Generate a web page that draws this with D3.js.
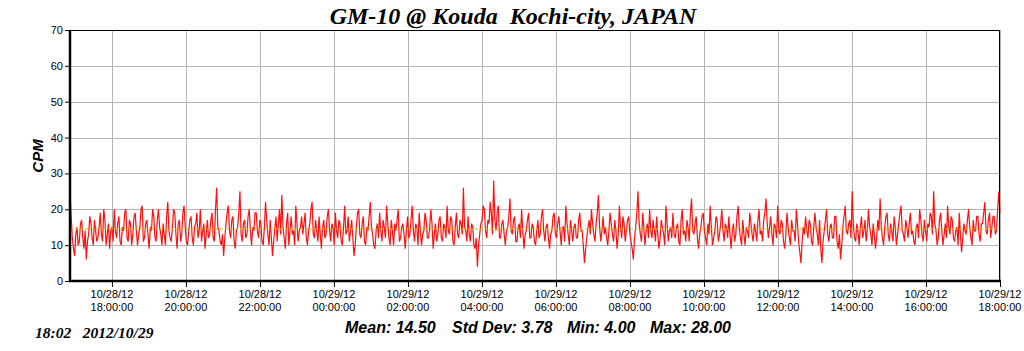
<!DOCTYPE html>
<html><head><meta charset="utf-8">
<script src="https://cdn.jsdelivr.net/npm/d3@7"></script>
<style>body{margin:0;background:#fff}svg{display:block}</style>
</head><body>
<script>
const title = "GM-10 @ Kouda  Kochi-city, JAPAN";
const yLabel = "CPM";
const startTime = "2012-10-28T16:52:00";
const endTime = "2012-10-29T18:00:00";
const cpm = [
25,18,12,9,7,13,15,10,11,16,17,12,9,14,6,11,13,18,16,12,10,17,14,11,12,15,19,13,11,20,17,10,13,16,9,14,15,11,20,14,
12,16,18,11,10,15,14,19,20,12,11,17,16,10,13,18,19,14,10,13,15,20,21,11,12,16,17,13,9,15,14,20,18,12,11,17,20,15,13,10,
16,13,10,18,22,14,12,11,15,20,19,13,9,16,17,11,13,19,21,15,11,10,14,17,18,12,10,15,16,19,12,14,20,11,14,16,9,13,17,12,
13,17,19,12,11,20,26,15,14,11,10,13,7,12,16,19,21,14,12,17,18,11,9,14,15,19,25,13,11,16,17,12,13,18,20,14,10,15,14,19,
19,14,12,17,16,11,10,15,22,17,13,10,17,12,7,11,15,18,11,16,20,13,24,15,12,9,16,19,10,14,18,13,14,10,21,16,11,14,15,18,
13,16,19,12,10,14,16,20,22,13,12,17,14,11,18,13,9,15,17,12,13,18,20,14,11,16,15,10,19,14,12,17,16,11,10,15,21,13,14,18,
11,14,17,12,7,10,15,19,20,13,12,16,18,11,10,15,14,18,22,15,13,10,9,14,16,12,19,14,11,17,15,12,21,16,12,10,17,14,10,16,
14,17,20,11,12,15,16,13,9,14,18,12,13,17,21,14,11,16,15,10,19,14,10,13,14,19,17,12,12,15,20,16,9,13,16,11,13,17,18,12,
11,16,15,12,21,14,13,18,17,11,10,15,19,13,12,17,16,13,26,15,14,11,18,13,11,16,15,10,9,12,4,10,13,16,17,21,20,14,12,17,
16,22,19,13,28,17,14,19,21,12,12,16,17,13,10,14,15,18,23,14,13,17,18,11,11,15,16,12,20,14,9,13,14,17,19,12,12,16,15,11,
10,14,17,12,13,18,20,14,11,15,16,12,9,13,14,18,19,13,12,16,18,14,10,15,15,11,21,16,13,10,17,14,11,15,16,12,12,17,19,14,
14,10,5,9,12,15,17,13,20,16,13,11,16,19,24,15,11,14,18,13,15,12,10,14,19,16,13,11,17,14,9,13,21,15,12,18,16,11,14,17,
18,13,11,9,6,12,15,19,25,16,13,11,19,15,10,14,16,12,20,14,12,17,14,11,18,13,9,12,17,15,13,10,21,16,11,14,15,12,19,13,
12,15,16,11,10,17,20,13,14,11,17,15,11,19,23,14,13,16,18,12,9,13,15,18,19,14,12,10,16,13,21,15,10,12,14,18,17,11,13,16,
20,14,11,16,15,12,18,13,9,14,16,11,13,18,21,15,12,10,17,13,10,15,14,12,19,16,13,11,16,14,11,17,20,13,14,11,17,19,23,16,
12,15,18,13,10,16,15,12,21,14,13,17,16,11,9,13,19,15,12,10,17,14,14,11,20,16,11,8,5,11,15,13,18,14,12,17,16,11,10,15,
19,15,13,10,17,9,5,11,14,17,20,13,11,15,16,12,12,18,18,11,9,13,6,10,15,18,21,14,13,16,17,12,25,16,12,11,16,14,10,15,
18,12,14,17,11,14,20,15,13,10,16,13,9,12,17,14,23,15,12,10,15,18,19,13,11,16,14,11,18,15,10,13,16,19,21,14,13,11,17,15,
12,16,19,13,14,11,10,15,16,12,20,17,13,11,17,14,11,16,15,19,18,13,25,16,14,10,12,17,19,14,10,13,16,12,21,15,13,18,17,12,
11,14,15,10,19,13,8,12,16,14,13,17,20,15,12,10,17,14,14,18,18,13,11,16,16,19,22,14,13,17,19,12,15,18,18,13,14,20,25,19
];
const statLabels = ["Mean: 14.50","Std Dev: 3.78","Min: 4.00","Max: 28.00"];
const meanValue = 14.5;
const yTicks = [0,10,20,30,40,50,60,70];
const xTickTimes = ["2012-10-28T18:00:00","2012-10-28T20:00:00","2012-10-28T22:00:00","2012-10-29T00:00:00","2012-10-29T02:00:00","2012-10-29T04:00:00","2012-10-29T06:00:00","2012-10-29T08:00:00","2012-10-29T10:00:00","2012-10-29T12:00:00","2012-10-29T14:00:00","2012-10-29T16:00:00","2012-10-29T18:00:00"];
const updateStamp = "18:02   2012/10/29";

const W=1024,H=351, L=70, R=1000, T=30, B=281;
const t0 = new Date(startTime), t1 = new Date(endTime);
const span = (t1 - t0);
const times = cpm.map((v,i)=> new Date(+t0 + span * i/(cpm.length-1)));
const x = d3.scaleTime().domain([t0,t1]).range([L,R]);
const y = d3.scaleLinear().domain([0,70]).range([B,T]);

const svg = d3.select("body").append("svg").attr("width",W).attr("height",H);
const sans = "'Liberation Sans', Arial, sans-serif", serif = "'Liberation Serif', 'Times New Roman', serif";

// grid
const ticksX = xTickTimes.map(s=>new Date(s));
svg.append("g").selectAll("line.gx").data(ticksX).join("line")
  .attr("x1",d=>Math.round(x(d))+0.5).attr("x2",d=>Math.round(x(d))+0.5).attr("y1",T).attr("y2",B)
  .attr("stroke","#b4b4b4").attr("stroke-width",1);
svg.append("g").selectAll("line.gy").data(yTicks).join("line")
  .attr("x1",L).attr("x2",R).attr("y1",d=>Math.round(y(d))+0.5).attr("y2",d=>Math.round(y(d))+0.5)
  .attr("stroke","#b4b4b4").attr("stroke-width",1);

// data line
svg.append("path").datum(cpm)
  .attr("d", d3.line().x((d,i)=>x(times[i])).y(d=>y(d)))
  .attr("fill","none").attr("stroke","#ff1010").attr("stroke-width",1.2);

// mean line
svg.append("line").attr("x1",L).attr("x2",R).attr("y1",y(meanValue)).attr("y2",y(meanValue))
  .attr("stroke","#b8c400").attr("stroke-width",1).attr("stroke-dasharray","3,2");

// frame
svg.append("rect").attr("x",L+0.5).attr("y",T+0.5).attr("width",R-L-1).attr("height",B-T-1)
  .attr("fill","none").attr("stroke","#000").attr("stroke-width",1);
svg.append("line").attr("x1",L).attr("x2",L).attr("y1",T).attr("y2",B+1).attr("stroke","#000").attr("stroke-width",2.5);
svg.append("line").attr("x1",L-1).attr("x2",R+1).attr("y1",B).attr("y2",B).attr("stroke","#000").attr("stroke-width",2.5);

// y axis
const ya = svg.append("g").attr("transform",`translate(${L-1},0)`)
  .call(d3.axisLeft(y).tickValues(yTicks).tickSize(4).tickPadding(2));
ya.select(".domain").remove();
ya.selectAll("text").attr("font-family",sans).attr("font-size",11).attr("fill","#000");

// x axis
const xa = svg.append("g").attr("transform",`translate(0,${B+1})`)
  .call(d3.axisBottom(x).tickValues(ticksX).tickSize(5).tickFormat(""));
xa.select(".domain").remove();
const fmtD = d3.timeFormat("%m/%d/%y"), fmtT = d3.timeFormat("%H:%M:%S");
const xl = svg.append("g").selectAll("text").data(ticksX).join("text")
  .attr("x",d=>x(d)).attr("text-anchor","middle")
  .attr("font-family",sans).attr("font-size",11).attr("fill","#000");
xl.append("tspan").attr("x",d=>x(d)).attr("y",298).text(d=>fmtD(d));
xl.append("tspan").attr("x",d=>x(d)).attr("y",311).text(d=>fmtT(d));

// title
svg.append("text").attr("x",513).attr("y",24).attr("text-anchor","middle")
  .attr("font-family",serif).attr("font-weight","bold").attr("font-style","italic")
  .attr("font-size",24).style("white-space","pre").text(title);

// y label
svg.append("text").attr("transform","translate(43,156) rotate(-90)").attr("text-anchor","middle")
  .attr("font-family",sans).attr("font-weight","bold").attr("font-style","italic")
  .attr("font-size",15).text(yLabel);

// stats
const statX = [345,452,567,650];
svg.append("g").selectAll("text").data(statLabels).join("text")
  .attr("x",(d,i)=>statX[i]).attr("y",333)
  .attr("font-family",sans).attr("font-weight","bold").attr("font-style","italic")
  .attr("font-size",16).text(d=>d);

// stamp
svg.append("text").attr("x",35).attr("y",338)
  .attr("font-family",serif).attr("font-weight","bold").attr("font-style","italic")
  .attr("font-size",15.5).style("white-space","pre").text(updateStamp);
</script>
</body></html>
